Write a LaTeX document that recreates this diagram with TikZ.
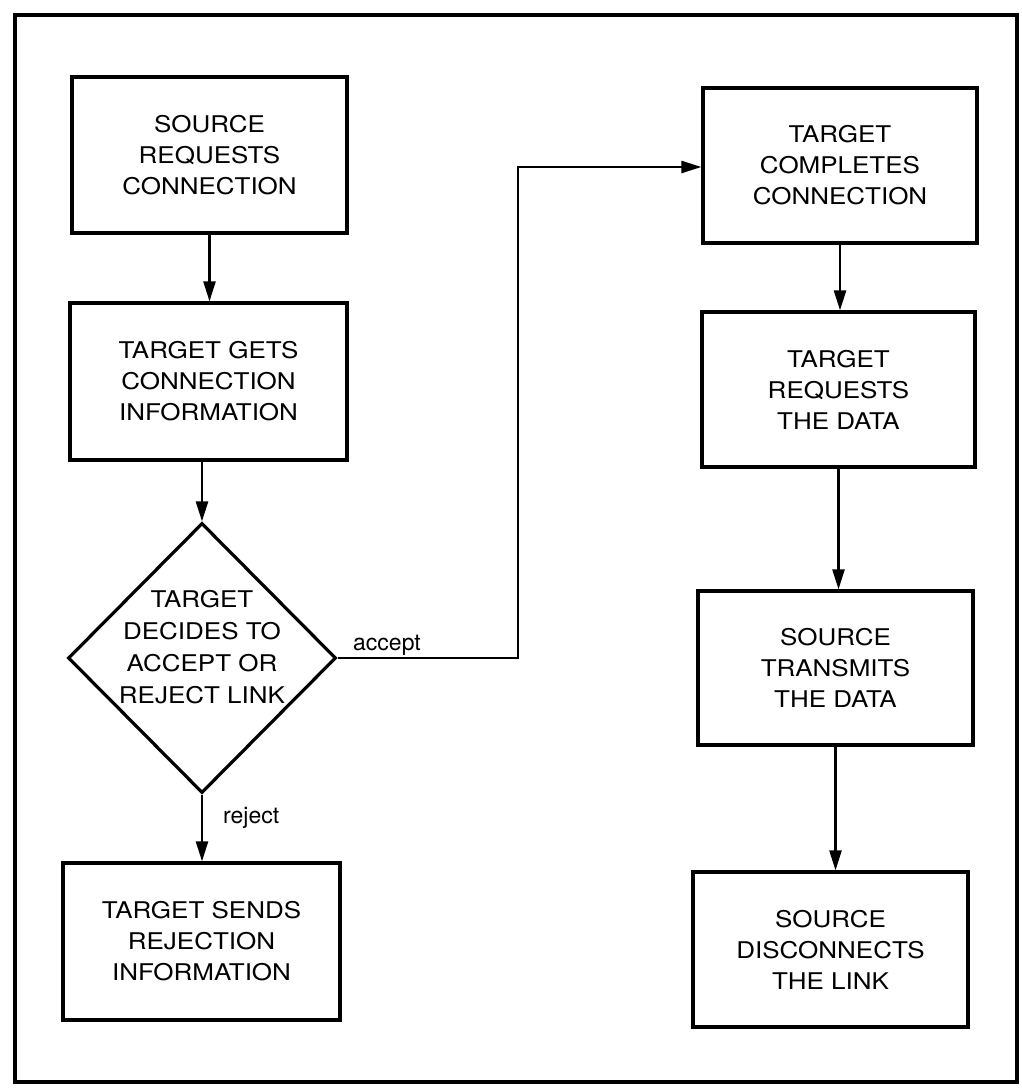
\documentclass[tikz,border=0pt]{standalone}
\usepackage{fontspec}
\setmainfont{TeX Gyre Heros}
\newfontfamily\boxfont[FakeStretch=1.13]{TeX Gyre Heros}
\usetikzlibrary{shapes.geometric,arrows.meta,calc}
\begin{document}
\begin{tikzpicture}[x=1pt,y=-1pt,
  every node/.style={font=\fontsize{23}{31}\selectfont},
  stepbox/.style={draw,line width=3.2pt,rectangle,align=center,inner sep=0pt,font=\boxfont\fontsize{23}{31}\selectfont},
  decision/.style={draw,line width=3.2pt,diamond,aspect=1,inner sep=0pt,minimum width=268pt,minimum height=270pt},
  plain/.style={align=center,inner sep=0pt,font=\boxfont\fontsize{23}{32}\selectfont},
  flow/.style={line width=2.4pt,-{Triangle[length=20pt,width=12pt]}},
  lbl/.style={anchor=base west,inner sep=0pt}
]
\useasboundingbox (0,0) rectangle (1021,1091);
\draw[line width=3.2pt] (15,15) rectangle (1017,1082);

\node[stepbox,minimum width=275pt,minimum height=156pt] (b1) at (209.5,155) {SOURCE\\REQUESTS\\CONNECTION};
\node[stepbox,minimum width=277pt,minimum height=157pt] (b2) at (208.5,381.5) {TARGET GETS\\CONNECTION\\INFORMATION};
\node[decision] (d) at (202,658) {};
\node[plain] (dtxt) at (202,647) {TARGET\\DECIDES TO\\ACCEPT OR\\REJECT LINK};
\node[stepbox,minimum width=277pt,minimum height=157pt] (b7) at (201.5,941.5) {TARGET SENDS\\REJECTION\\INFORMATION};

\node[stepbox,minimum width=274pt,minimum height=155pt] (b3) at (840,165.5) {TARGET\\COMPLETES\\CONNECTION};
\node[stepbox,minimum width=273pt,minimum height=155pt] (b4) at (838.5,389.5) {TARGET\\REQUESTS\\THE DATA};
\node[stepbox,minimum width=275pt,minimum height=154pt] (b5) at (835.5,668) {SOURCE\\TRANSMITS\\THE DATA};
\node[stepbox,minimum width=275pt,minimum height=155pt] (b6) at (830.5,949.5) {SOURCE\\DISCONNECTS\\THE LINK};

\draw[flow] (b1.south) -- (b1.south |- b2.north);
\draw[flow] (b2.south -| d.north) -- (d.north);
\draw[flow] (d.south) -- (d.south |- b7.north);
\draw[flow] (b3.south) -- (b3.south |- b4.north);
\draw[flow] (b4.south) -- (b4.south |- b5.north);
\draw[flow] (b5.south) -- (b5.south |- b6.north);

\coordinate (k) at (518,167);
\draw[flow] (d.east) -| (k) -- (k -| b3.west);

\node[lbl] (acc) at (353,650) {accept};
\node[lbl] (rej) at (223,823) {reject};
\end{tikzpicture}
\end{document}
